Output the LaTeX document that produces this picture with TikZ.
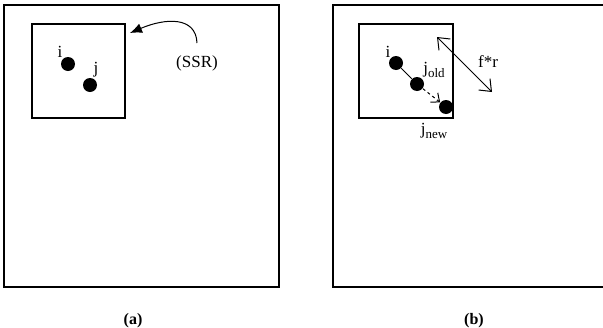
\documentclass[tikz,border=0pt]{standalone}
\usepackage{fontspec}
\setmainfont{Liberation Serif}
\usetikzlibrary{arrows.meta}
\tikzset{
  frame/.style={draw, line width=1.3pt},
  dot/.style={circle, fill, inner sep=0pt, minimum size=14pt},
  lbl/.style={inner sep=0pt, font=\fontsize{17}{17}\selectfont},
  subcap/.style={inner sep=0pt, font=\fontsize{16}{16}\selectfont\bfseries},
}
\newcommand{\lowsub}[1]{\raisebox{-4pt}{\fontsize{13}{13}\selectfont #1}}
\begin{document}
\begin{tikzpicture}[x=1pt,y=-1pt,line width=1pt]
	\useasboundingbox (0,0) rectangle (603,327);
	% (a)
	\draw[frame] (4,5) rectangle (279,287);
	\draw[frame] (32,24) rectangle (125,118);
	\node[dot] (ia) at (68,64) {};
	\node[dot] (ja) at (90,85) {};
	\node[lbl] (lia) at (60,52) {i};
	\node[lbl] (lja) at (96,70) {j};
	\node[lbl] (ssr) at (197,63) {(SSR)};
	\coordinate (ssrtop) at (197,43);
	\coordinate (ssrtip) at (130,33);
	\draw[-{Latex[length=12pt,width=10pt]}] (ssrtop) .. controls (196,16) and (165,18) .. (ssrtip);
	\node[subcap] (capa) at (133,321) {(a)};
	% (b)
	\draw[frame] (333,5) rectangle (610,287);
	\draw[frame] (359,24) rectangle (453,118);
	\node[dot] (ib) at (396,63) {};
	\node[dot] (jold) at (417,84) {};
	\node[dot] (jnew) at (446,107) {};
	\node[lbl] (lib) at (388,52) {i};
	\node[lbl] (ljold) at (434,70) {j\lowsub{old}};
	\node[lbl] (ljnew) at (434,131) {j\lowsub{new}};
	\draw (ib) -- (jold);
	\draw[dashed,-{Straight Barb[length=7pt,width=12pt]}] (jold) -- (jnew);
	\coordinate (fra) at (437,37);
	\coordinate (frb) at (492,92);
	\draw[{Straight Barb[length=10pt,width=16pt]}-{Straight Barb[length=10pt,width=16pt]}] (fra) -- (frb);
	\node[lbl] (fr) at (488,62) {f*r};
	\node[subcap] (capb) at (474,321) {(b)};
\end{tikzpicture}
\end{document}
